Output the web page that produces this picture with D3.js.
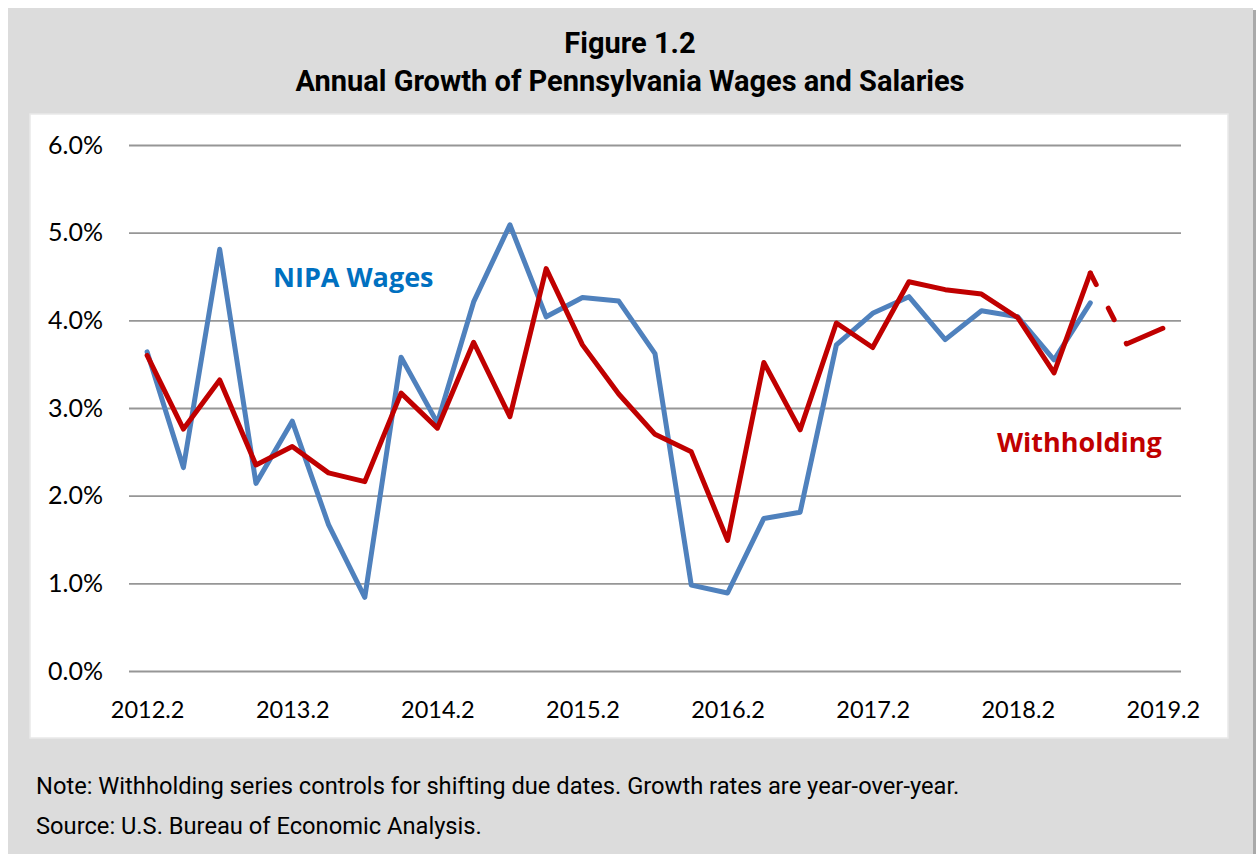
<!DOCTYPE html>
<html>
<head>
<meta charset="utf-8">
<script src="https://cdn.jsdelivr.net/npm/d3@7/dist/d3.min.js"></script>
<style>
  html, body { margin: 0; padding: 0; background: #ffffff; }
  svg { display: block; }
</style>
</head>
<body>
<svg id="chart" width="1256" height="854"></svg>
<script>
// ---- data ----
const quarters = ["2012.2","2012.3","2012.4","2013.1","2013.2","2013.3","2013.4","2014.1",
  "2014.2","2014.3","2014.4","2015.1","2015.2","2015.3","2015.4","2016.1",
  "2016.2","2016.3","2016.4","2017.1","2017.2","2017.3","2017.4","2018.1",
  "2018.2","2018.3","2018.4","2019.1","2019.2"];
const nipaWages = [3.64, 2.32, 4.81, 2.14, 2.85, 1.67, 0.84, 3.58, 2.83, 4.21, 5.09, 4.04, 4.26, 4.22,
  3.62, 0.98, 0.89, 1.74, 1.81, 3.72, 4.08, 4.27, 3.78, 4.11, 4.04, 3.55, 4.20, null, null];
const withholding = [3.60, 2.76, 3.32, 2.35, 2.56, 2.26, 2.16, 3.17, 2.77, 3.75, 2.90, 4.59, 3.72, 3.16,
  2.70, 2.50, 1.49, 3.52, 2.75, 3.97, 3.69, 4.44, 4.35, 4.30, 4.03, 3.40, 4.54, 3.73, 3.91];
const withholdingActualEnd = "2018.4";   // after this quarter the series is dashed (estimate)
const yTicks = [0, 1, 2, 3, 4, 5, 6];
const xTickLabels = ["2012.2","2013.2","2014.2","2015.2","2016.2","2017.2","2018.2","2019.2"];
const titleLines = ["Figure 1.2", "Annual Growth of Pennsylvania Wages and Salaries"];
const notes = ["Note: Withholding series controls for shifting due dates. Growth rates are year-over-year.",
  "Source: U.S. Bureau of Economic Analysis."];

// ---- layout ----
const svg = d3.select("#chart");
const plot = { left: 129, right: 1181, top: 145, bottom: 671 };

// panel background
svg.append("rect").attr("x", 1253).attr("y", 10).attr("width", 3).attr("height", 844).attr("fill", "#a9a9a9");
svg.append("rect").attr("x", 8).attr("y", 8).attr("width", 1245).attr("height", 846).attr("fill", "#dcdcdc");
svg.append("rect").attr("x", 30).attr("y", 114).attr("width", 1198).attr("height", 624)
  .attr("fill", "#ffffff").attr("stroke", "#e9e9e9").attr("stroke-width", 1.5);

// title
svg.selectAll("text.title").data(titleLines).join("text")
  .attr("class", "title")
  .attr("x", 630).attr("y", (d, i) => 53 + i * 38)
  .attr("text-anchor", "middle")
  .attr("font-family", "Roboto").attr("font-weight", "bold").attr("font-size", 29)
  .attr("fill", "#000").text(d => d);

// notes
svg.selectAll("text.note").data(notes).join("text")
  .attr("class", "note")
  .attr("x", 36).attr("y", (d, i) => 794 + i * 40)
  .attr("font-family", "Roboto").attr("font-size", 23.7)
  .attr("fill", "#000").text(d => d);

// scales
const x = d3.scalePoint().domain(quarters).range([plot.left, plot.right]).padding(0.5);
const y = d3.scaleLinear().domain([0, 6]).range([plot.bottom, plot.top]);

// y axis + gridlines
const yAxis = svg.append("g").attr("transform", `translate(${plot.left},0)`)
  .call(d3.axisLeft(y).tickValues(yTicks).tickSize(-(plot.right - plot.left)).tickPadding(26)
    .tickFormat(d => d3.format(".1f")(d) + "%"));
yAxis.select(".domain").remove();
yAxis.selectAll(".tick line").attr("stroke", "#969696").attr("stroke-width", 1.8);
yAxis.selectAll(".tick text").attr("font-family", "Lato").attr("font-size", 25).attr("fill", "#000");

// x axis labels
const xAxis = svg.append("g").attr("transform", `translate(0,${plot.bottom})`)
  .call(d3.axisBottom(x).tickValues(xTickLabels).tickSize(0).tickPadding(30));
xAxis.select(".domain").remove();
xAxis.selectAll(".tick text").attr("font-family", "Lato").attr("font-size", 23.5).attr("fill", "#000");

// lines
const line = d3.line().defined(d => d.v != null).x(d => x(d.q)).y(d => y(d.v));

const nipaData = quarters.map((q, i) => ({ q, v: nipaWages[i] }));
const cut = quarters.indexOf(withholdingActualEnd);
const whAll = quarters.map((q, i) => ({ q, v: withholding[i] }));
const whSolid = whAll.slice(0, cut + 1);
const whDash = whAll.slice(cut);

svg.append("path").datum(nipaData).attr("d", line)
  .attr("fill", "none").attr("stroke", "#4f81bd").attr("stroke-width", 5)
  .attr("stroke-linejoin", "round").attr("stroke-linecap", "round");

svg.append("path").datum(whSolid).attr("d", line)
  .attr("fill", "none").attr("stroke", "#c00000").attr("stroke-width", 5)
  .attr("stroke-linejoin", "round").attr("stroke-linecap", "round");

svg.append("path").datum(whDash).attr("d", line)
  .attr("fill", "none").attr("stroke", "#c00000").attr("stroke-width", 5)
  .attr("stroke-linejoin", "round").attr("stroke-linecap", "round")
  .attr("stroke-dasharray", "13,26.5,13,26.5,60,20");

// series labels
svg.append("text").attr("x", 273).attr("y", 287)
  .attr("font-family", "Open Sans").attr("font-weight", "bold").attr("font-size", 27)
  .attr("fill", "#0070c0").text("NIPA Wages");
svg.append("text").attr("x", 997).attr("y", 452)
  .attr("font-family", "Open Sans").attr("font-weight", "bold").attr("font-size", 27)
  .attr("fill", "#c00000").text("Withholding");
</script>
</body>
</html>
